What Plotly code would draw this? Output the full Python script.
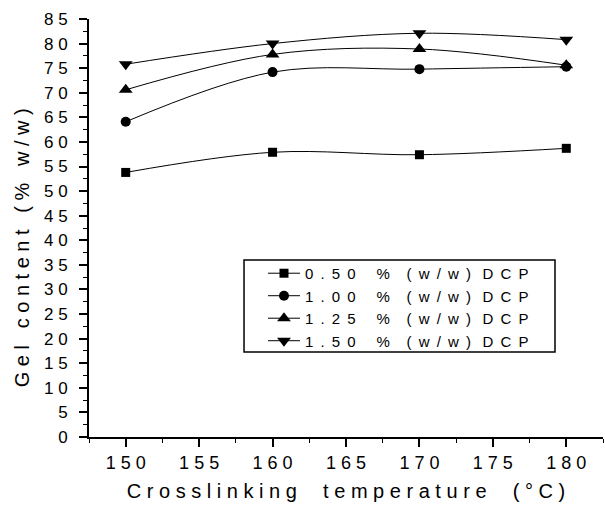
import plotly.graph_objects as go

# Crosslinking temperature (°C)
temperature = [150, 160, 170, 180]

# Gel content (% w/w) for each DCP loading
dcp_050 = [53.8, 57.9, 57.4, 58.7]
dcp_100 = [64.1, 74.2, 74.8, 75.3]
dcp_125 = [70.6, 77.8, 78.9, 75.6]
dcp_150 = [75.8, 80.0, 82.1, 80.8]

series_names = ["0.50 % (w/w) DCP", "1.00 % (w/w) DCP",
                "1.25 % (w/w) DCP", "1.50 % (w/w) DCP"]
series_values = [dcp_050, dcp_100, dcp_125, dcp_150]
series_symbols = ["square", "circle", "triangle-up", "triangle-down"]
series_sizes = [9, 10, 12, 12]

x_ticks = [150, 155, 160, 165, 170, 175, 180]
y_ticks = list(range(0, 90, 5))

x_title = "Crosslinking temperature (°C)"
y_title = "Gel content (% w/w)"

NB = "\u00a0"
THIN = "\u2009"


def spaced(text, gap=NB, word_gap=NB * 3):
    """Widen the letter spacing by padding characters with spaces."""
    words = text.split(" ")
    return word_gap.join(gap.join(w) for w in words)


def legend_label(text):
    """Legend entry text, with wider gaps after the number and the % sign."""
    words = text.split(" ")
    word_gaps = [NB * 5, NB * 4, NB * 2 + THIN]
    out = spaced(words[0], NB + THIN)
    for g, w in zip(word_gaps, words[1:]):
        out += g + spaced(w, NB + THIN)
    return out


FONT = "Arial, Liberation Sans, sans-serif"

fig = go.Figure()
for name, vals, sym, sz in zip(series_names, series_values,
                               series_symbols, series_sizes):
    fig.add_trace(go.Scatter(
        x=temperature, y=vals, name=legend_label(name),
        mode="lines+markers",
        line=dict(color="black", width=1, shape="spline", smoothing=1.0),
        marker=dict(symbol=sym, size=sz, color="black"),
    ))

axis_common = dict(
    showline=True, linecolor="black", linewidth=2,
    ticks="outside", ticklen=8, tickwidth=1.5, tickcolor="black",
    showgrid=False, zeroline=False,
    minor=dict(ticks="outside", ticklen=4, tickwidth=1, tickcolor="black"),
)

fig.update_layout(
    width=605, height=509,
    margin=dict(l=89, r=2, t=19, b=72),
    paper_bgcolor="white", plot_bgcolor="white",
    font=dict(family=FONT, size=17, color="black"),
    xaxis=dict(
        range=[147.5, 182.5],
        tickvals=x_ticks, ticktext=[spaced(str(v)) for v in x_ticks],
        tickfont=dict(family=FONT, size=18, color="black"),
        minor_dtick=2.5, ticklabelstandoff=0,
        title=dict(text=spaced(x_title, NB, NB * 4 + THIN),
                   font=dict(family=FONT, size=20), standoff=12),
        **axis_common,
    ),
    yaxis=dict(
        range=[0, 85],
        tickvals=y_ticks, ticktext=[spaced(str(v)) for v in y_ticks],
        tickfont=dict(family=FONT, size=17, color="black"),
        minor_dtick=2.5, ticklabelstandoff=8,
        **axis_common,
    ),
    annotations=[dict(
        text=spaced(y_title, NB, NB * 3), textangle=-90,
        xref="paper", yref="paper", x=-0.130, y=0.452,
        xanchor="center", yanchor="middle", showarrow=False,
        font=dict(family=FONT, size=20, color="black"),
    )],
    # legend frame
    shapes=[dict(
        type="rect", xref="paper", yref="paper",
        x0=0.3016, x1=0.9066, y0=0.2033, y1=0.4234,
        line=dict(color="black", width=1.5), fillcolor="white",
        layer="above",
    )],
    legend=dict(
        x=0.3385, y=0.4307, xanchor="left", yanchor="top",
        borderwidth=0, bgcolor="rgba(0,0,0,0)",
        font=dict(family=FONT, size=15, color="black"),
        itemwidth=32, tracegroupgap=0,
    ),
    showlegend=True,
)

fig.write_html("out.html")
